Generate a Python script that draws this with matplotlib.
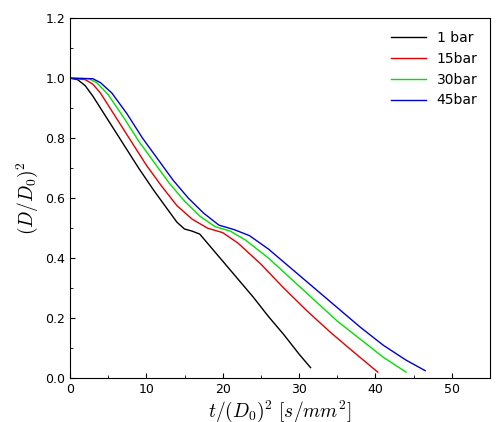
import matplotlib
matplotlib.use("Agg")
import matplotlib.pyplot as plt
from matplotlib.ticker import MultipleLocator

plt.rcParams['mathtext.fontset'] = 'cm'

labels = ["1 bar", "15bar", "30bar", "45bar"]
colors = ["black", "#e00000", "#00e000", "#0000cc"]
x1 = [0,1,2,3,5,7,9,11,13,14,15,16,17,18,20,22,24,26,28,30,31.5]
y1 = [1.0,0.995,0.975,0.94,0.86,0.78,0.70,0.625,0.555,0.52,0.497,0.49,0.48,0.45,0.39,0.33,0.27,0.205,0.145,0.08,0.035]
x2 = [0,2,3,4,6,8,10,12,14,16,18,20,22,25,28,31,34,37,40.3]
y2 = [1.0,0.995,0.98,0.95,0.87,0.79,0.71,0.64,0.575,0.53,0.50,0.485,0.45,0.38,0.30,0.225,0.155,0.09,0.02]
x3 = [0,2.5,3.5,5,7,9,11,13,15,17,19,21,23,26,29,32,35,38,41,44]
y3 = [1.0,0.998,0.985,0.945,0.87,0.79,0.72,0.65,0.59,0.54,0.505,0.49,0.46,0.40,0.33,0.26,0.19,0.13,0.07,0.02]
x4 = [0,3,4,5.5,7.5,9.5,11.5,13.5,15.5,17.5,19.5,21.5,23.5,26,29,32,35,38,41,44,46.5]
y4 = [1.0,0.998,0.985,0.95,0.88,0.80,0.73,0.66,0.60,0.55,0.51,0.495,0.475,0.43,0.365,0.30,0.235,0.17,0.11,0.06,0.025]

fig = plt.figure(figsize=(4.96, 4.22), dpi=100)
ax = fig.add_axes([0.141, 0.104, 0.847, 0.853])
for xs, ys, l, c in zip([x1, x2, x3, x4], [y1, y2, y3, y4], labels, colors):
    ax.plot(xs, ys, color=c, lw=1, label=l)
ax.set_xlim(0, 55)
ax.set_ylim(0, 1.2)
ax.xaxis.set_major_locator(MultipleLocator(10))
ax.xaxis.set_minor_locator(MultipleLocator(5))
ax.yaxis.set_major_locator(MultipleLocator(0.2))
ax.yaxis.set_minor_locator(MultipleLocator(0.1))
ax.yaxis.set_major_formatter(matplotlib.ticker.FormatStrFormatter('%.1f'))
ax.tick_params(direction='in', which='both', labelsize=9)
ax.set_xlabel(r"$t/(D_0)^2\ [s/mm^2]$", fontsize=14, labelpad=2)
ax.set_ylabel(r"$(D/D_0)^2$", fontsize=14)
ax.legend(frameon=False, loc='upper right', fontsize=10, handlelength=2.5)
fig.savefig("out.png", dpi=100)
